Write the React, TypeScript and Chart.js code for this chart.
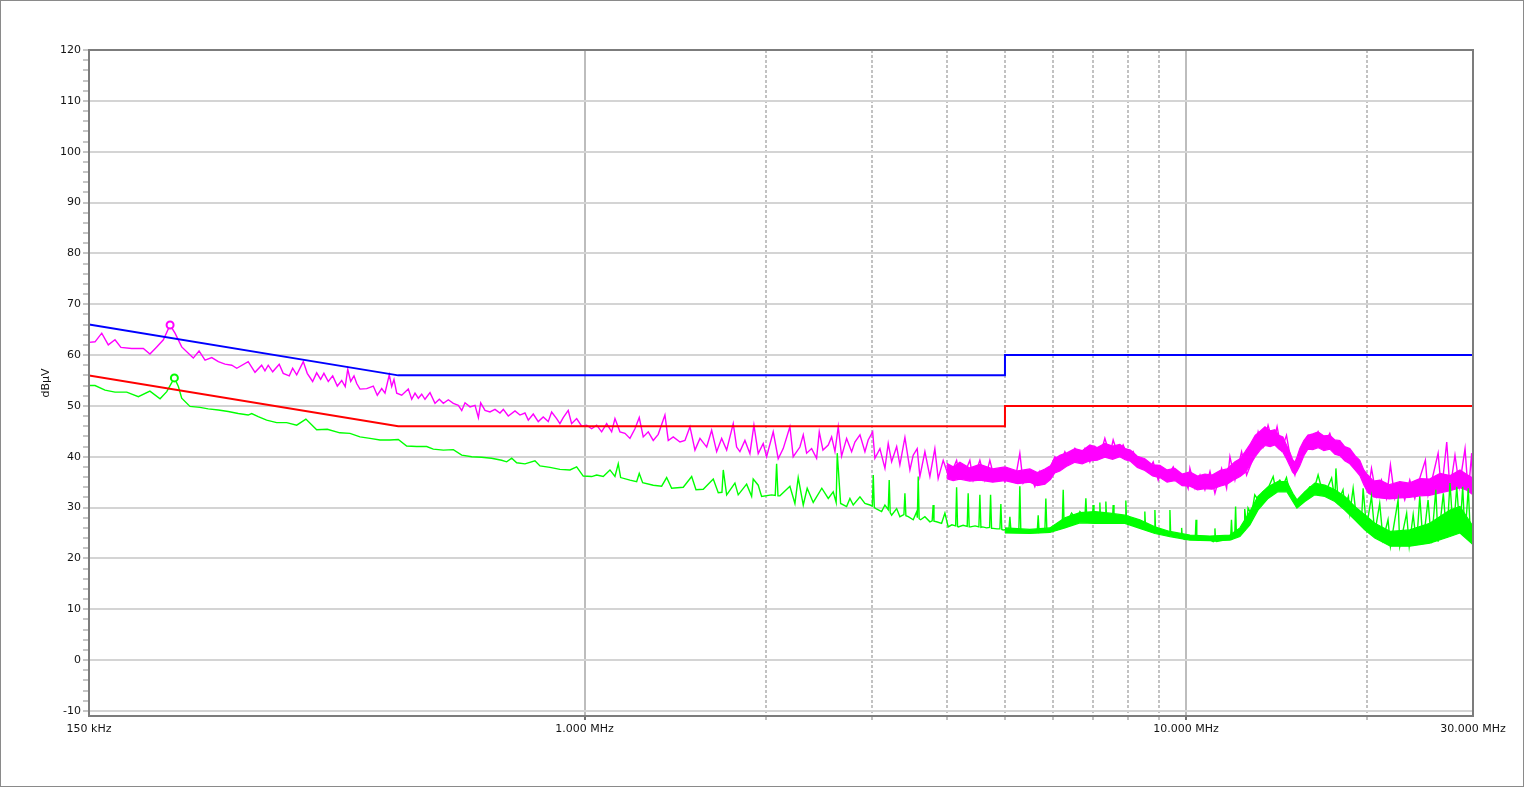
import React, { useEffect, useRef } from "react";
import { Chart, registerables } from "chart.js";

Chart.register(...registerables);

// ---------- Axis definitions ----------
const X_MIN_MHZ = 0.15;
const X_MAX_MHZ = 30;
const xGridFreq = [0.15, 1, 2, 3, 4, 5, 6, 7, 8, 9, 10, 20, 30];
const xMajorFreq = [1, 10];
const xLabelFreq = [0.15, 1, 10, 30];
const xLabelText = ["150 kHz", "1.000 MHz", "10.000 MHz", "30.000 MHz"];

const Y_MIN = -11;
const Y_MAX = 120;
const yLabelValues = [-10, 0, 10, 20, 30, 40, 50, 60, 70, 80, 90, 100, 110, 120];
const yMinorStep = 2;
const yAxisTitle = "dBµV";

// ---------- Limit lines ----------
const limitFreq = [0.15, 0.49, 5, 5, 30];
const qpLimit = [66, 56, 56, 60, 60];
const avLimit = [56, 46, 46, 50, 50];

// ---------- Markers ----------
const peakMarkerFreq = [0.2046];
const peakMarkerValue = [65.9];
const avgMarkerFreq = [0.208];
const avgMarkerValue = [55.5];

// ---------- Peak (magenta) trace ----------
const peakFreq = [
  0.15, 0.1535, 0.1575, 0.1615, 0.1657, 0.1695, 0.1766, 0.1847, 0.1894, 0.1944,
  0.1994, 0.2046, 0.2085, 0.2139, 0.2236, 0.2286, 0.2339, 0.24, 0.2461, 0.2525,
  0.2591, 0.2641, 0.2759, 0.2832, 0.2905, 0.2942, 0.2979, 0.303, 0.3107, 0.3155,
  0.3229, 0.3271, 0.3322, 0.3407, 0.3459, 0.3531, 0.3586, 0.3641, 0.3687, 0.3749,
  0.3813, 0.3881, 0.3947, 0.4, 0.4039, 0.4085, 0.4137, 0.418, 0.4233, 0.4343,
  0.4454, 0.4523, 0.46, 0.4658, 0.4735, 0.4779, 0.4821, 0.4872, 0.4966, 0.5093,
  0.516, 0.5225, 0.5292, 0.5361, 0.5429, 0.5534, 0.5641, 0.5735, 0.5824, 0.5936,
  0.6051, 0.6168, 0.6249, 0.6328, 0.645, 0.6575, 0.666, 0.6719, 0.6831, 0.6962,
  0.7097, 0.7234, 0.7327, 0.7468, 0.7662, 0.781, 0.796, 0.8062, 0.8217, 0.8376,
  0.8537, 0.8702, 0.8816, 0.8986, 0.91, 0.9216, 0.9394, 0.9517, 0.9702, 0.989,
  1.008, 1.0276, 1.0474, 1.0676, 1.0883, 1.1093, 1.1234, 1.1451, 1.1672, 1.1898,
  1.2128, 1.2329, 1.2519, 1.2761, 1.3008, 1.3259, 1.3603, 1.3777, 1.4043, 1.4409,
  1.4687, 1.4971, 1.526, 1.5556, 1.596, 1.6267, 1.6582, 1.6902, 1.7229, 1.7668,
  1.7899, 1.8126, 1.8477, 1.8834, 1.9124, 1.9442, 1.9817, 2.0076, 2.0591, 2.0988,
  2.1394, 2.195, 2.2228, 2.2805, 2.31, 2.34, 2.385, 2.431, 2.456, 2.491,
  2.542, 2.575, 2.608, 2.641, 2.675, 2.727, 2.78, 2.815, 2.87, 2.925,
  2.962, 3.013, 3.039, 3.098, 3.158, 3.198, 3.24, 3.303, 3.344, 3.409,
  3.475, 3.519, 3.573, 3.61, 3.68, 3.751, 3.823, 3.872, 3.947, 4.023,
  4.101, 4.155, 4.207, 4.317, 4.371, 4.427, 4.542, 4.63, 4.719, 4.81,
  4.903, 4.998, 5.095, 5.193, 5.293, 5.361, 5.5, 5.606, 5.715, 5.825,
  5.938, 6.053, 6.17, 6.289, 6.411, 6.535, 6.661, 6.79, 6.92, 7.054,
  7.19, 7.329, 7.471, 7.566, 7.712, 7.86, 8.012, 8.167, 8.325, 8.486,
  8.65, 8.819, 8.99, 9.163, 9.34, 9.522, 9.706, 9.893, 10.08, 10.15,
  10.35, 10.55, 10.75, 10.96, 11.17, 11.46, 11.68, 11.83, 12.06, 12.37,
  12.61, 12.93, 13.18, 13.43, 13.69, 13.96, 14.17, 14.41, 14.69, 14.98,
  15.17, 15.36, 15.66, 15.96, 16.27, 16.58, 16.9, 17.34, 17.68, 18.02,
  18.36, 18.72, 19.2, 19.58, 19.82, 20.08, 20.34, 20.73, 21.13, 21.54,
  21.87, 22.24, 22.67, 23.1, 23.55, 24.01, 24.47, 25.0, 25.26, 25.75,
  26.25, 26.59, 27.13, 27.47, 28.0, 28.47, 29.1, 29.46, 29.85, 30.0,
];
const peakValues = [
  62.5, 62.6, 64.3, 62.0, 63.0, 61.5, 61.3, 61.3, 60.2, 61.6,
  63.0, 65.9, 64.3, 61.6, 59.4, 60.8, 59.0, 59.5, 58.7, 58.2,
  58.0, 57.4, 58.7, 56.6, 58.0, 56.9, 58.0, 56.7, 58.2, 56.4,
  55.9, 57.4, 56.1, 58.7, 56.4, 54.8, 56.5, 55.2, 56.4, 54.8,
  55.9, 53.9, 55.0, 53.8, 57.2, 54.8, 55.9, 54.4, 53.3, 53.4,
  53.9, 52.1, 53.4, 52.5, 56.1, 53.8, 55.2, 52.5, 52.1, 53.3,
  51.3, 52.5, 51.5, 52.3, 51.3, 52.6, 50.5, 51.3, 50.5, 51.2,
  50.5, 50.1, 49.1, 50.6, 49.8, 50.1, 47.7, 50.6, 49.1, 48.8,
  49.3, 48.6, 49.3, 48.0, 49.0, 48.2, 48.6, 47.2, 48.4, 46.9,
  47.8, 46.9, 48.8, 47.5, 46.5, 47.7, 49.1, 46.5, 47.5, 46.0,
  46.2, 45.5, 46.2, 44.9, 46.5, 44.9, 47.5, 44.9, 44.6, 43.6,
  45.5, 47.7, 43.9, 44.9, 43.2, 44.4, 48.2, 43.2, 43.9, 42.9,
  43.2, 45.9, 41.3, 43.6, 41.9, 45.2, 41.0, 43.6, 41.3, 46.5,
  41.9, 41.0, 43.2, 40.6, 46.2, 40.6, 42.6, 40.0, 44.9, 39.6,
  41.6, 45.9, 40.0, 41.9, 44.3, 40.7, 41.6, 39.7, 44.9, 41.3,
  42.3, 43.9, 41.0, 45.9, 40.1, 43.6, 41.0, 42.9, 44.3, 41.0,
  43.3, 44.9, 39.7, 41.6, 37.7, 42.6, 39.0, 42.0, 38.4, 43.8,
  37.4, 40.3, 41.6, 36.1, 41.0, 36.1, 41.6, 35.7, 39.3, 36.4,
  37.7, 39.3, 36.1, 37.7, 39.3, 35.4, 39.3, 35.4, 39.3, 35.4,
  37.4, 35.1, 37.4, 35.1, 40.7, 34.8, 36.7, 34.1, 37.1, 34.8,
  37.7, 40.0, 38.4, 41.0, 39.0, 41.6, 39.3, 41.6, 39.0, 42.0,
  40.0, 43.6, 40.3, 43.3, 40.3, 42.3, 40.0, 41.0, 38.4, 39.3,
  37.1, 39.0, 35.4, 37.7, 36.4, 38.0, 35.4, 36.4, 33.8, 37.7,
  33.8, 36.4, 33.5, 37.1, 32.8, 37.7, 33.8, 40.0, 35.4, 41.0,
  36.4, 39.7, 44.9, 42.0, 46.2, 42.6, 45.9, 41.3, 44.2, 38.4,
  36.4, 39.7, 42.6, 44.2, 42.3, 44.9, 42.0, 44.6, 41.3, 42.9,
  39.7, 41.3, 38.7, 37.1, 34.8, 33.1, 37.7, 32.2, 35.4, 31.8,
  38.4, 31.8, 34.8, 31.5, 35.4, 31.8, 35.8, 39.3, 32.5, 36.4,
  40.7, 33.1, 42.9, 33.5, 40.3, 34.1, 41.6, 32.8, 40.7, 32.5,
];

// Dense part of the peak trace (upper / lower edge of the solid band)
const peakBandFreq = [
  4.0, 4.1, 4.207, 4.37, 4.542, 4.77, 5.0, 5.25, 5.5, 5.66,
  5.825, 5.95, 6.05, 6.17, 6.35, 6.535, 6.72, 6.92, 7.12, 7.329,
  7.55, 7.762, 7.92, 8.083, 8.3, 8.541, 8.8, 9.048, 9.3, 9.584,
  9.85, 10.15, 10.45, 10.75, 11.05, 11.39, 11.7, 12.06, 12.3, 12.54,
  12.8, 13.03, 13.28, 13.53, 13.8, 14.05, 14.27, 14.49, 14.7, 14.88,
  15.03, 15.17, 15.3, 15.46, 15.7, 15.94, 16.25, 16.58, 16.95, 17.34,
  17.68, 18.02, 18.36, 18.72, 19.1, 19.45, 19.75, 20.05, 20.5, 21.0,
  21.8, 22.67, 23.5, 24.47, 25.4, 26.44, 27.5, 28.54, 29.3, 30.0,
];
const peakBandHigh = [
  38.7, 38.0, 38.9, 37.8, 38.5, 37.6, 38.0, 37.2, 37.6, 36.9,
  37.6, 38.2, 39.6, 40.3, 40.8, 41.6, 41.2, 42.3, 41.8, 42.6,
  42.1, 42.4, 41.6, 41.3, 40.1, 39.6, 38.4, 38.3, 37.4, 37.7,
  36.6, 37.0, 36.2, 36.6, 36.4, 37.3, 37.6, 39.0, 39.6, 41.0,
  42.6, 44.2, 45.0, 45.9, 45.1, 45.3, 44.2, 43.9, 42.2, 40.9,
  39.5, 38.9, 40.0, 41.6, 43.2, 44.2, 44.5, 44.9, 44.1, 44.2,
  43.3, 43.2, 42.0, 41.6, 40.2, 39.3, 37.4, 36.4, 35.2, 35.4,
  34.5, 35.1, 34.8, 35.7, 35.6, 36.7, 36.3, 37.4, 36.5, 35.8,
];
const peakBandLow = [
  35.7, 35.3, 35.6, 35.2, 35.4, 35.0, 35.3, 34.7, 35.0, 34.3,
  34.6, 35.5, 36.8, 37.2, 38.2, 38.9, 38.6, 39.2, 39.3, 39.9,
  39.5, 40.0, 39.4, 39.1, 37.9, 37.3, 36.2, 35.9, 35.0, 35.3,
  34.3, 34.2, 33.5, 33.7, 33.6, 34.2, 34.6, 35.6, 36.1, 36.9,
  38.5, 40.0, 41.3, 42.2, 42.0, 42.3, 41.5, 40.9, 39.5, 38.2,
  37.0, 36.5, 37.2, 38.2, 40.2, 41.5, 41.4, 41.8, 41.2, 41.5,
  40.5, 40.2, 39.2, 38.6, 37.4, 36.3, 34.5, 33.0, 32.1, 31.9,
  31.7, 31.9, 32.0, 32.3, 32.4, 32.9, 33.3, 33.9, 33.4, 32.5,
];

// ---------- Average (green) trace: [frequency MHz, dBµV] ----------
const avgTrace: [number, number][] = [
  [0.15, 54.0], [0.1535, 54.0], [0.1595, 53.1], [0.1657, 52.7], [0.1733, 52.7],
  [0.1812, 51.8], [0.1894, 52.9], [0.1969, 51.4], [0.202, 52.8], [0.208, 55.5],
  [0.2112, 53.8], [0.2139, 51.5], [0.2208, 49.9], [0.2294, 49.7], [0.2368, 49.4],
  [0.2461, 49.2], [0.2556, 48.9], [0.2656, 48.5], [0.2759, 48.2], [0.2796, 48.5],
  [0.2867, 47.9], [0.2961, 47.2], [0.3077, 46.7], [0.3197, 46.7], [0.3322, 46.2],
  [0.3441, 47.4], [0.3586, 45.3], [0.3735, 45.4], [0.3919, 44.7], [0.4074, 44.6],
  [0.4233, 43.9], [0.4399, 43.6], [0.457, 43.3], [0.4748, 43.3], [0.4901, 43.4],
  [0.5061, 42.1], [0.5259, 42.0], [0.5464, 42.0], [0.5604, 41.5], [0.5824, 41.3],
  [0.6051, 41.4], [0.6249, 40.3], [0.6493, 40.0], [0.6745, 39.9], [0.7004, 39.7],
  [0.7281, 39.3], [0.7422, 39.0], [0.7566, 39.7], [0.7712, 38.8], [0.796, 38.6],
  [0.8271, 39.2], [0.8431, 38.2], [0.8759, 37.9], [0.91, 37.5], [0.9456, 37.4],
  [0.9702, 38.0], [0.995, 36.2], [1.0276, 36.1], [1.0474, 36.4], [1.0742, 36.1],
  [1.1021, 37.4], [1.1234, 36.1], [1.1377, 38.6], [1.1482, 35.9], [1.1898, 35.4],
  [1.2207, 35.1], [1.2329, 36.7], [1.2491, 34.9], [1.3008, 34.4], [1.3433, 34.2],
  [1.3693, 35.9], [1.3957, 33.8], [1.4592, 34.0], [1.5069, 36.1], [1.532, 33.5],
  [1.5753, 33.6], [1.6368, 35.6], [1.6684, 32.9], [1.692, 33.0], [1.7007, 37.4],
  [1.7229, 32.5], [1.7783, 34.8], [1.8009, 32.5], [1.8598, 34.6], [1.8956, 32.2],
  [1.9072, 35.6], [1.9442, 34.4], [1.9696, 32.2], [2.0465, 32.5], [2.075, 32.4],
  [2.086, 38.6], [2.097, 32.3], [2.1124, 32.3], [2.195, 34.2], [2.2375, 30.8],
  [2.2658, 35.9], [2.31, 30.5], [2.3451, 33.8], [2.3998, 31.0], [2.48, 33.8],
  [2.542, 31.8], [2.5907, 33.1], [2.62, 31.0], [2.631, 40.7], [2.6653, 30.8],
  [2.727, 30.2], [2.7619, 31.8], [2.797, 30.5], [2.87, 32.1], [2.925, 30.8],
  [2.982, 30.5], [3.009, 30.3], [3.02, 36.4], [3.032, 30.0], [3.051, 29.8],
  [3.118, 29.2], [3.158, 30.5], [3.198, 29.6], [3.21, 35.4], [3.222, 29.0],
  [3.24, 28.5], [3.303, 29.8], [3.344, 28.2], [3.396, 28.6], [3.409, 32.8],
  [3.422, 28.4], [3.453, 28.2], [3.519, 27.6], [3.566, 29.2], [3.575, 28.0],
  [3.587, 36.1], [3.6, 27.8], [3.62, 27.6], [3.68, 28.2], [3.751, 27.2],
  [3.784, 27.4], [3.798, 30.5], [3.81, 27.3], [3.848, 27.2], [3.923, 26.9],
  [3.973, 28.9], [4.023, 26.2], [4.08, 26.6], [4.14, 26.4], [4.155, 34.0],
  [4.17, 26.3], [4.18, 26.2], [4.26, 26.5], [4.327, 26.3], [4.343, 32.8],
  [4.36, 26.2], [4.383, 26.2], [4.46, 26.4], [4.525, 26.2], [4.542, 32.5],
  [4.56, 26.1], [4.589, 26.2], [4.66, 26.0], [4.714, 26.1], [4.732, 32.5],
  [4.75, 25.9], [4.779, 25.9], [4.85, 25.8], [4.904, 25.8], [4.922, 30.7],
  [4.94, 25.7], [4.966, 25.6], [5.04, 25.7], [5.075, 25.6], [5.095, 28.2],
  [5.115, 25.6], [5.148, 25.6], [5.22, 25.5], [5.273, 25.5], [5.293, 34.2],
  [5.313, 25.4], [5.344, 25.3], [5.5, 25.3], [5.6, 25.2], [5.657, 25.2],
  [5.678, 28.5], [5.7, 25.1], [5.715, 25.1], [5.78, 25.4], [5.825, 25.4],
  [5.847, 31.8], [5.87, 25.6], [5.899, 25.6], [6.0, 25.8], [6.093, 26.2],
  [6.15, 26.3], [6.225, 26.5], [6.249, 33.5], [6.27, 26.7], [6.33, 26.9],
  [6.452, 28.9], [6.577, 27.6], [6.661, 29.2], [6.79, 28.0], [6.815, 31.8],
  [6.84, 28.0], [6.875, 27.9], [6.99, 28.0], [7.008, 30.5], [7.03, 27.8],
  [7.1, 27.6], [7.17, 27.8], [7.19, 31.0], [7.21, 27.7], [7.281, 27.6],
  [7.34, 27.7], [7.357, 31.2], [7.38, 27.6], [7.423, 27.6], [7.546, 27.6],
  [7.566, 30.5], [7.59, 27.4], [7.665, 27.2], [7.92, 27.3], [7.942, 31.4],
  [7.965, 27.2], [8.012, 27.6], [8.274, 26.6], [8.515, 26.0], [8.541, 29.2],
  [8.565, 25.9], [8.597, 25.9], [8.85, 25.4], [8.877, 29.5], [8.9, 25.3],
  [8.935, 25.3], [9.163, 24.9], [9.375, 24.6], [9.402, 29.5], [9.43, 24.6],
  [9.464, 24.6], [9.769, 24.4], [9.81, 24.3], [9.833, 26.0], [9.86, 24.0],
  [9.958, 23.7], [10.28, 24.3], [10.36, 24.0], [10.39, 27.6], [10.42, 23.7],
  [10.48, 23.6], [10.82, 24.0], [11.1, 23.3], [11.14, 23.4], [11.17, 25.9],
  [11.2, 23.4], [11.24, 23.3], [11.68, 23.7], [11.86, 23.8], [11.9, 27.6],
  [11.94, 24.0], [11.98, 24.3], [12.05, 24.4], [12.09, 30.2], [12.13, 24.5],
  [12.21, 24.6], [12.44, 25.3], [12.49, 25.6], [12.52, 29.7], [12.61, 26.3],
  [12.68, 29.9], [12.85, 28.6], [13.01, 32.5], [13.18, 31.5], [13.43, 33.1],
  [13.69, 33.8], [13.96, 36.1], [14.05, 34.4], [14.32, 35.4], [14.5, 34.4],
  [14.69, 35.9], [14.88, 32.8], [15.11, 31.5], [15.27, 30.2], [15.46, 31.8],
  [15.76, 32.8], [16.07, 34.1], [16.37, 34.1], [16.58, 36.4], [16.8, 33.8],
  [17.13, 33.5], [17.46, 35.8], [17.68, 31.5], [17.75, 37.7], [17.9, 31.2],
  [18.24, 33.5], [18.36, 30.2], [18.62, 32.2], [18.72, 28.9], [18.96, 33.8],
  [19.2, 27.9], [19.58, 27.6], [19.7, 33.8], [19.95, 26.0], [20.34, 32.2],
  [20.6, 25.0], [20.99, 30.8], [21.26, 23.7], [21.67, 27.6], [21.87, 22.4],
  [22.52, 31.5], [22.67, 22.4], [23.27, 28.9], [23.5, 22.4], [23.86, 28.6],
  [24.17, 22.7], [24.47, 32.2], [24.78, 23.0], [25.26, 31.5], [25.59, 23.0],
  [26.02, 33.5], [26.25, 23.3], [26.78, 32.8], [27.13, 24.0], [27.47, 34.8],
  [27.82, 25.0], [28.19, 34.1], [28.54, 25.3], [28.84, 34.1], [29.1, 24.3],
  [29.46, 33.8], [29.74, 23.3], [30.0, 22.7],
];

// Dense part of the average trace (upper / lower edge of the solid band)
const avgBandFreq = [
  5.0, 5.5, 5.938, 6.289, 6.661, 7.054, 7.471, 7.912, 8.379, 8.877,
  9.402, 10.15, 10.96, 11.83, 12.29, 12.77, 13.17, 13.69, 14.21, 14.71,
  15.05, 15.29, 15.76, 16.37, 17.01, 17.68, 18.36, 19.08, 19.82, 20.6,
  21.87, 23.55, 25.42, 27.47, 28.54, 30.0,
];
const avgBandHigh = [
  26.0, 25.7, 26.0, 28.0, 29.0, 29.2, 28.9, 28.5, 27.6, 26.2,
  25.3, 24.6, 24.4, 24.6, 26.0, 29.2, 32.2, 34.1, 35.1, 35.1,
  32.8, 31.5, 33.1, 34.8, 34.4, 33.5, 32.2, 30.2, 28.6, 26.9,
  25.3, 25.6, 26.9, 29.5, 30.2, 26.3,
];
const avgBandLow = [
  25.0, 24.9, 25.1, 26.0, 27.0, 26.9, 26.9, 26.9, 25.9, 24.9,
  24.3, 23.6, 23.5, 23.6, 24.3, 26.6, 29.5, 31.8, 33.1, 33.1,
  31.2, 29.9, 31.2, 32.5, 32.2, 31.2, 29.5, 27.6, 25.6, 24.0,
  22.4, 22.4, 23.0, 24.3, 25.0, 22.7,
];

// ---------- Styles ----------
const MAGENTA = "#ff00ff";
const GREEN = "#00ff00";
const BLUE = "#0000ff";
const RED = "#ff0000";
const FONT = { family: "'DejaVu Sans', Verdana, sans-serif", size: 11 };
const TEXT_COLOR = "#141414";

const toXY = (xs: number[], ys: number[]) => xs.map((x, i) => ({ x, y: ys[i] }));
const pairsToXY = (pairs: [number, number][]) => pairs.map(([x, y]) => ({ x, y }));

export default function App() {
  const canvasRef = useRef<HTMLCanvasElement | null>(null);

  useEffect(() => {
    document.body.style.margin = "0";
    const canvas = canvasRef.current;
    if (!canvas) return;

    const yTicks: number[] = [];
    for (let v = yLabelValues[0]; v <= Y_MAX; v += yMinorStep) yTicks.push(v);

    const framePlugin = {
      id: "framePlugin",
      beforeDraw(chart: any) {
        const c = chart.ctx;
        c.save();
        c.fillStyle = "#ffffff";
        c.fillRect(0, 0, chart.width, chart.height);
        c.strokeStyle = "#8a8a8a";
        c.lineWidth = 1;
        c.strokeRect(0.5, 0.5, chart.width - 1, chart.height - 1);
        c.restore();
      },
      afterDatasetsDraw(chart: any) {
        const { left, top, right, bottom } = chart.chartArea;
        const c = chart.ctx;
        c.save();
        c.strokeStyle = "#7c7c7c";
        c.lineWidth = 2;
        c.strokeRect(left, top, right - left, bottom - top);
        c.restore();
      },
    };

    const isMajorX = (v: number) => xMajorFreq.indexOf(v) >= 0;
    const isEdgeX = (v: number) => v === X_MIN_MHZ || v === X_MAX_MHZ;

    const line = (data: any[], color: string, width: number, extra: any = {}) => ({
      data,
      borderColor: color,
      backgroundColor: color,
      borderWidth: width,
      pointRadius: 0,
      tension: 0,
      fill: false,
      ...extra,
    });

    const chart = new Chart(canvas, {
      type: "line",
      data: {
        datasets: [
          {
            data: toXY(peakMarkerFreq, peakMarkerValue),
            showLine: false,
            pointRadius: 3.5,
            pointBorderWidth: 2,
            pointBorderColor: MAGENTA,
            pointBackgroundColor: "#ffffff",
          },
          {
            data: toXY(avgMarkerFreq, avgMarkerValue),
            showLine: false,
            pointRadius: 3.5,
            pointBorderWidth: 2,
            pointBorderColor: GREEN,
            pointBackgroundColor: "#ffffff",
          },
          line(toXY(limitFreq, qpLimit), BLUE, 2),
          line(toXY(limitFreq, avLimit), RED, 2),
          line(pairsToXY(avgTrace), GREEN, 1.4),
          line(toXY(avgBandFreq, avgBandHigh), GREEN, 1.2, { fill: "+1" }),
          line(toXY(avgBandFreq, avgBandLow), GREEN, 1.2),
          line(toXY(peakFreq, peakValues), MAGENTA, 1.4),
          line(toXY(peakBandFreq, peakBandHigh), MAGENTA, 1.2, { fill: "+1" }),
          line(toXY(peakBandFreq, peakBandLow), MAGENTA, 1.2),
        ],
      },
      options: {
        animation: false,
        responsive: false,
        devicePixelRatio: 1,
        layout: { padding: { top: 50, right: 51, bottom: 0, left: 0 } },
        plugins: {
          legend: { display: false },
          tooltip: { enabled: false },
        },
        scales: {
          x: {
            type: "logarithmic",
            min: X_MIN_MHZ,
            max: X_MAX_MHZ,
            bounds: "data",
            afterBuildTicks: (s: any) => {
              s.ticks = xGridFreq.map((v) => ({ value: v }));
            },
            afterFit: (s: any) => {
              s.height = 71;
            },
            ticks: {
              autoSkip: false,
              maxRotation: 0,
              minRotation: 0,
              padding: 3,
              color: TEXT_COLOR,
              font: FONT,
              callback: (v: any) => {
                const i = xLabelFreq.indexOf(Number(v));
                return i >= 0 ? xLabelText[i] : "";
              },
            },
            grid: {
              lineWidth: 2,
              tickLength: 4,
              tickWidth: 2,
              color: (ctx: any) => {
                const v = ctx.tick ? ctx.tick.value : 0;
                if (isEdgeX(v)) return "rgba(0,0,0,0)";
                return isMajorX(v) ? "#bdbdbd" : "#c2c2c2";
              },
              tickColor: (ctx: any) => {
                const v = ctx.tick ? ctx.tick.value : 0;
                if (isEdgeX(v)) return "rgba(0,0,0,0)";
                return isMajorX(v) ? "#707070" : "#c2c2c2";
              },
            },
            border: {
              display: false,
              dash: (ctx: any) => {
                const v = ctx.tick ? ctx.tick.value : 0;
                return isMajorX(v) || isEdgeX(v) ? [] : [3, 2];
              },
            },
          },
          y: {
            type: "linear",
            min: Y_MIN,
            max: Y_MAX,
            bounds: "data",
            afterBuildTicks: (s: any) => {
              s.ticks = yTicks.map((v) => ({ value: v }));
            },
            afterFit: (s: any) => {
              s.width = 89;
            },
            ticks: {
              autoSkip: false,
              padding: 2,
              color: TEXT_COLOR,
              font: FONT,
              callback: (v: any) => (yLabelValues.indexOf(Number(v)) >= 0 ? String(v) : ""),
            },
            grid: {
              lineWidth: 2,
              tickLength: 6,
              tickWidth: 2,
              tickColor: "#c6c6c6",
              color: (ctx: any) => {
                const v = ctx.tick ? ctx.tick.value : 1;
                return yLabelValues.indexOf(v) >= 0 ? "#d4d4d4" : "rgba(0,0,0,0)";
              },
            },
            border: { display: false },
            title: {
              display: true,
              text: yAxisTitle,
              color: TEXT_COLOR,
              font: FONT,
              padding: { top: 40, bottom: 0 },
            },
          },
        },
      } as any,
      plugins: [framePlugin],
    });

    return () => chart.destroy();
  }, []);

  return (
    <div style={{ width: 1524, height: 787, position: "relative" }}>
      <canvas ref={canvasRef} width={1524} height={787} style={{ display: "block" }} />
    </div>
  );
}
